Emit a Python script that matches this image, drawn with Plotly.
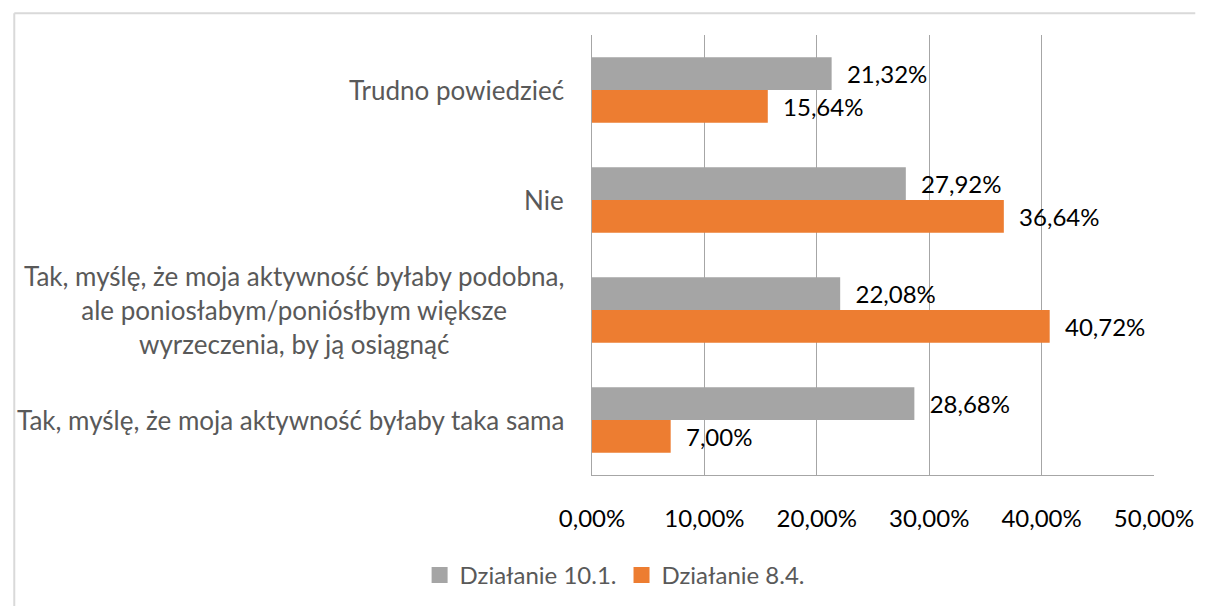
import plotly.graph_objects as go

categories = [
    "Tak, myślę, że moja aktywność byłaby taka sama",
    "Tak, myślę, że moja aktywność byłaby podobna,<br>ale poniosłabym/poniósłbym większe<br>wyrzeczenia, by ją osiągnąć",
    "Nie",
    "Trudno powiedzieć",
]
series_names = ["Działanie 10.1.", "Działanie 8.4."]
values_101 = [28.68, 22.08, 27.92, 21.32]
values_84 = [7.00, 40.72, 36.64, 15.64]
tick_vals = [0, 10, 20, 30, 40, 50]
tick_text = [f"{v:.2f}".replace(".", ",") + "%" for v in tick_vals]

GRAY = "#A5A5A5"
ORANGE = "#ED7D31"
FONT = "Lato"

W, H = 1206, 610
L, R, T, B = 592, 42, 35, 132
pw, ph = W - L - R, H - T - B

def px_x(px):
    return (px - L) / pw

def px_y(py):
    return (H - B - py) / ph

fig = go.Figure()
# orange first so that gray sits above within each group
fig.add_trace(go.Bar(
    y=categories, x=values_84, name=series_names[1], orientation="h",
    marker=dict(color=ORANGE, line=dict(width=0)),
    texttemplate="\u00a0\u00a0%{x:.2f}%", textposition="outside",
    textfont=dict(color="#000000", size=24, family=FONT),
    cliponaxis=False, showlegend=False,
))
fig.add_trace(go.Bar(
    y=categories, x=values_101, name=series_names[0], orientation="h",
    marker=dict(color=GRAY, line=dict(width=0)),
    texttemplate="\u00a0\u00a0%{x:.2f}%", textposition="outside",
    textfont=dict(color="#000000", size=24, family=FONT),
    cliponaxis=False, showlegend=False,
))
# legend entries with larger square keys
for name, col, rank in [(series_names[0], GRAY, 1), (series_names[1], ORANGE, 2)]:
    fig.add_trace(go.Scatter(
        x=[None], y=[None], mode="markers", name=name,
        marker=dict(symbol="square", size=16, color=col, line=dict(width=0)),
        showlegend=True, legendrank=rank, hoverinfo="skip",
    ))

# category labels as centered multi-line annotations
for c in categories:
    fig.add_annotation(
        x=0, xref="paper", y=c, yref="y", text=c, showarrow=False,
        xanchor="right", yanchor="middle", align="center", xshift=-26,
        font=dict(size=26, color="#595959", family=FONT),
    )

# chart border (only left and top edges fall inside the canvas)
fig.add_shape(type="line", xref="paper", yref="paper",
              x0=px_x(4), x1=px_x(1206), y0=px_y(13), y1=px_y(13),
              line=dict(color="#D9D9D9", width=2), layer="below")
fig.add_shape(type="line", xref="paper", yref="paper",
              x0=px_x(4), x1=px_x(4), y0=px_y(13), y1=px_y(610),
              line=dict(color="#D9D9D9", width=2), layer="below")

fig.update_layout(
    width=W, height=H,
    margin=dict(l=L, r=R, t=T, b=B),
    paper_bgcolor="white", plot_bgcolor="white",
    separators=", ",
    barmode="group", bargap=0.405, bargroupgap=0,
    font=dict(family=FONT, size=24, color="#595959"),
    showlegend=True,
    legend=dict(orientation="h", x=px_x(615), y=px_y(579), xanchor="center",
                yanchor="middle", font=dict(size=24, color="#595959", family=FONT),
                itemwidth=30, tracegroupgap=0),
    xaxis=dict(range=[0, 50], tickvals=tick_vals, ticktext=tick_text,
               showgrid=True, gridcolor="#A6A6A6", gridwidth=1,
               zeroline=False, showline=True, linecolor="#A6A6A6", linewidth=1,
               ticks="", ticklabelstandoff=22,
               tickfont=dict(size=24, color="#000000", family=FONT), fixedrange=True),
    yaxis=dict(type="category", categoryorder="array", categoryarray=categories,
               showticklabels=False, showgrid=False, zeroline=False,
               showline=True, linecolor="#A6A6A6", linewidth=1, ticks="",
               fixedrange=True),
)

fig.write_html(
    "out.html",
    config={"displayModeBar": False},
    post_script="document.body.style.margin='0';document.body.style.overflow='hidden';",
)
